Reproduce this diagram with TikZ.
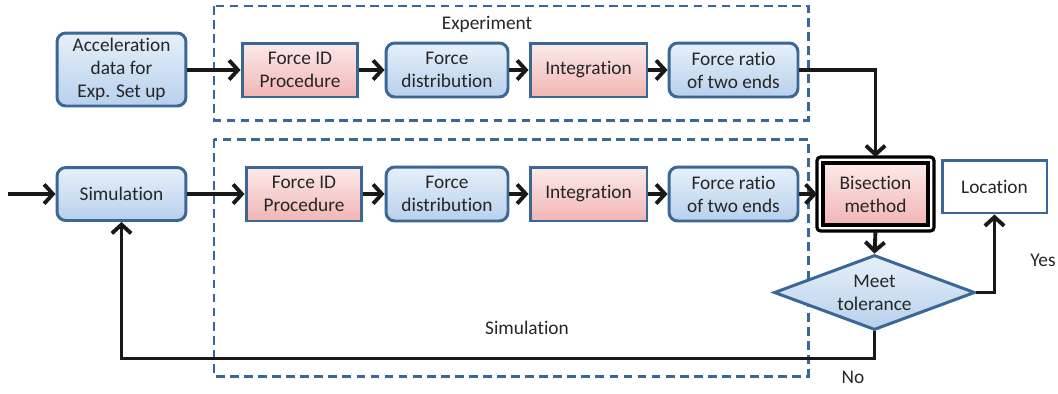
\documentclass[tikz,border=0pt]{standalone}
\usepackage{fontspec}
\setmainfont{Carlito}[Ligatures=NoCommon]
\usepackage{xcolor}
\usepackage{tikz}
\usetikzlibrary{shapes.geometric, arrows.meta, positioning}
\definecolor{fl-border}{HTML}{3B6796}
\definecolor{fl-bluetop}{HTML}{E6F0FA}
\definecolor{fl-bluebot}{HTML}{B8D0EC}
\definecolor{fl-pinktop}{HTML}{FCEAEA}
\definecolor{fl-pinkbot}{HTML}{F2B5B5}
\definecolor{fl-text}{HTML}{262626}

\begin{document}
\begin{tikzpicture}[
		x=0.02cm, y=-0.02cm,
		font=\fontsize{11}{13}\selectfont\color{fl-text},
		bluebox/.style={
			draw=fl-border, line width=1.7pt,
			top color=fl-bluetop, bottom color=fl-bluebot,
			rounded corners=5pt,
			minimum height=1.08cm, inner sep=1pt,
			align=center
		},
		pinkbox/.style={
			draw=fl-border, line width=1.7pt,
			top color=fl-pinktop, bottom color=fl-pinkbot,
			minimum height=1.08cm, inner sep=1pt,
			align=center
		},
		groupbox/.style={
			draw=fl-border, line width=1.7pt,
			dash pattern=on 5pt off 3pt
		},
		arr/.style={
			draw=black!90, line width=2.2pt,
			-{Straight Barb[length=5pt,width=11pt]}
		}
		]
		
		\useasboundingbox (0,0) rectangle (1058,393);
		
		% dashed groups
		\draw[groupbox] (214,6) rectangle (808,120);
		\draw[groupbox] (214,139) rectangle (808,376);
		\node (explabel) at (487,24) {Experiment};
		\node (simlabel) at (527,328) {Simulation};
		
		% experiment row
		\node[bluebox, minimum width=2.58cm, minimum height=1.46cm] (accel) at (121.5,69.5)
		{Acceleration\\data for\\Exp. Set up};
		\node[pinkbox, minimum width=2.32cm] (fid1) at (300,70) {Force ID\\Procedure};
		\node[bluebox, minimum width=2.44cm] (fdist1) at (447,70) {Force\\distribution};
		\node[pinkbox, minimum width=2.34cm] (integ1) at (588.5,70) {Integration};
		\node[bluebox, minimum width=2.58cm] (fratio1) at (733.5,70) {Force ratio\\of two ends};
		
		% simulation row
		\node[bluebox, minimum width=2.58cm, minimum height=1.06cm] (sim) at (121.5,194) {Simulation};
		\node[pinkbox, minimum width=2.32cm] (fid2) at (304,194) {Force ID\\Procedure};
		\node[bluebox, minimum width=2.44cm] (fdist2) at (447,194) {Force\\distribution};
		\node[pinkbox, minimum width=2.34cm] (integ2) at (588.5,194) {Integration};
		\node[bluebox, minimum width=2.58cm] (fratio2) at (733.5,194) {Force ratio\\of two ends};
		
		% bisection, location, check
		\node[pinkbox, draw=black, line width=1.8pt, minimum width=2.1cm, minimum height=1.24cm,
		outer sep=0.12cm] (bisect) at (875.5,194) {Bisection\\method};
		\draw[black, line width=1.8pt, rounded corners=2pt]
		(bisect.north west) rectangle (bisect.south east);
		\node[draw=fl-border, line width=1.7pt, fill=white, minimum width=2.1cm,
		minimum height=1.06cm] (loc) at (994.5,186.5) {Location};
		\node[diamond, draw=fl-border, line width=1.7pt,
		top color=fl-bluetop, bottom color=fl-bluebot,
		minimum width=4.02cm, minimum height=1.5cm, aspect=2.68, inner sep=0pt,
		align=center] (meet) at (874.5,292.5) {Meet\\tolerance};
		\node (yes) at (1043,260) {Yes};
		\node (no) at (853,377) {No};
		
		% connectors
		\coordinate (start) at (8,194);
		\draw[arr] (start) -- (sim.west);
		\draw[arr] (accel.east |- fid1.west) -- (fid1.west);
		\draw[arr] (fid1) -- (fdist1);
		\draw[arr] (fdist1) -- (integ1);
		\draw[arr] (integ1) -- (fratio1);
		\draw[arr] (fratio1.east) -| (bisect.north);
		\draw[arr] (sim) -- (fid2);
		\draw[arr] (fid2) -- (fdist2);
		\draw[arr] (fdist2) -- (integ2);
		\draw[arr] (integ2) -- (fratio2);
		\draw[arr] (fratio2) -- (bisect);
		\draw[arr] (bisect.south) -- (meet.north);
		\draw[arr] (meet.east) -| (loc.south);
		\draw[arr] (meet.south) -- ++(0,27) -| (sim.south);
		
	\end{tikzpicture}
\end{document}
